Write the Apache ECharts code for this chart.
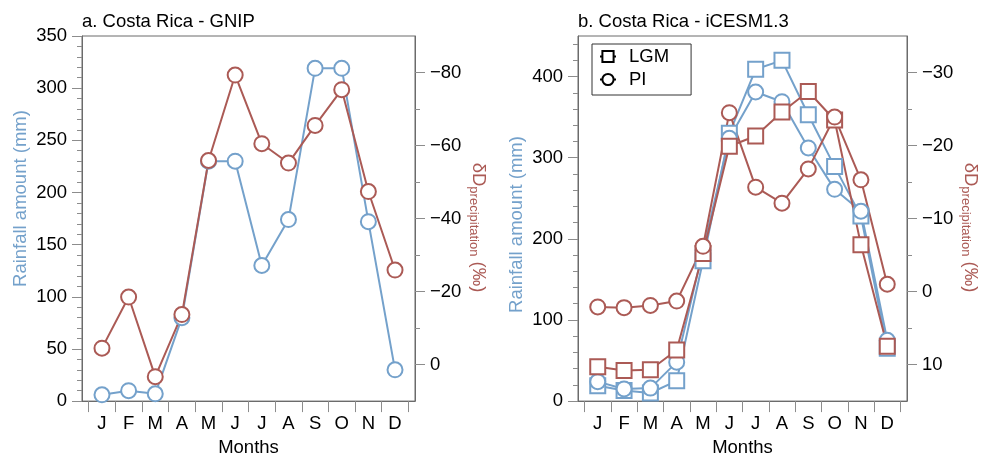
<!DOCTYPE html>
<html>
<head>
<meta charset="utf-8">
<script src="https://cdn.jsdelivr.net/npm/echarts@6/dist/echarts.min.js"></script>
<style>
  html, body { margin: 0; padding: 0; background: #fff; }
  #chart { width: 981px; height: 462px; }
</style>
</head>
<body>
<div id="chart"></div>
<script>
// months
const monthLabels = ['J', 'F', 'M', 'A', 'M', 'J', 'J', 'A', 'S', 'O', 'N', 'D']
const monthIdx = [1, 2, 3, 4, 5, 6, 7, 8, 9, 10, 11, 12]
const monthBounds = [0.5, 1.5, 2.5, 3.5, 4.5, 5.5, 6.5, 7.5, 8.5, 9.5, 10.5, 11.5, 12.5]

// a. GNIP station
const gnipRain = [6, 10, 7, 80, 230, 230, 130, 174, 319, 319, 172, 30]
const gnipDD = [-4.5, -18.5, 3.3, -13.7, -55.9, -79.3, -60.5, -55.2, -65.5, -75.3, -47.4, -25.9]

// b. iCESM1.3
const lgmRain = [19, 13, 10, 25, 173, 330, 409, 420, 353, 289, 228, 65]
const piRain = [24, 15, 16, 48, 186, 324, 381, 369, 312, 261, 234, 75]
const lgmDD = [10.3, 10.8, 10.7, 8.0, -5.2, -19.9, -21.3, -24.6, -27.4, -23.5, -6.4, 7.5]
const piDD = [2.1, 2.2, 1.9, 1.3, -6.2, -24.5, -14.3, -12.1, -16.8, -23.9, -15.3, -1.0]

// tick labels
const rainTicksA = [0, 50, 100, 150, 200, 250, 300, 350]
const rainMinorA = [10, 20, 30, 40, 60, 70, 80, 90, 110, 120, 130, 140, 160, 170, 180, 190,
  210, 220, 230, 240, 260, 270, 280, 290, 310, 320, 330, 340]
const ddTicksA = [-80, -60, -40, -20, 0]
const ddMinorA = [-70, -50, -30, -10]
const rainTicksB = [0, 100, 200, 300, 400]
const rainMinorB = [20, 40, 60, 80, 120, 140, 160, 180, 220, 240, 260, 280, 320, 340, 360, 380, 420, 440]
const ddTicksB = [-30, -20, -10, 0, 10]
const ddMinorB = [-25, -15, -5, 5]

const FONT = 'Liberation Sans'
const FS = 18.5
const BLUE = '#74a1cb'
const RED = '#ab5a55'
const AXIS = '#6b6b6b'
const TICK = '#8c8c8c'

const fmt = (v) => (v < 0 ? '\u2212' + Math.abs(v) : String(v))

function mainY(grid, pos, min, max, inverse, ticks, name, nameColor, extra) {
  return {
    type: 'value', gridIndex: grid, position: pos, min, max, inverse,
    axisLine: { show: true, lineStyle: { color: AXIS, width: 1 } },
    axisTick: { show: true, inside: false, length: 10, customValues: ticks, lineStyle: { color: TICK } },
    axisLabel: { customValues: ticks, formatter: fmt, margin: 15, color: '#000', fontFamily: FONT, fontSize: FS },
    splitLine: { show: false },
    name,
    nameLocation: 'middle',
    nameGap: pos === 'left' ? 52 : 54,
    nameRotate: pos === 'left' ? 90 : -90,
    nameTextStyle: Object.assign({ color: nameColor, fontFamily: FONT, fontSize: FS }, extra || {}),
  }
}

function minorY(grid, pos, min, max, inverse, ticks) {
  return {
    type: 'value', gridIndex: grid, position: pos, min, max, inverse,
    axisLine: { show: false },
    axisTick: { show: true, inside: false, length: 5, customValues: ticks, lineStyle: { color: TICK } },
    axisLabel: { show: false },
    splitLine: { show: false },
  }
}

function monthAxis(grid) {
  return {
    type: 'value', gridIndex: grid, min: 0.25, max: 12.75,
    axisLine: { show: true, lineStyle: { color: AXIS, width: 1 } },
    axisTick: { show: true, length: 11, customValues: monthBounds, lineStyle: { color: TICK } },
    axisLabel: {
      customValues: monthIdx, formatter: (v) => monthLabels[v - 1],
      margin: 13, color: '#000', fontFamily: FONT, fontSize: FS,
    },
    splitLine: { show: false },
    name: 'Months', nameLocation: 'middle', nameGap: 33,
    nameTextStyle: { color: '#000', fontFamily: FONT, fontSize: FS },
  }
}

const ddName = '{a|\u03b4D}{b|precipitation}{a| (\u2030)}'
const ddStyle = {
  padding: [0, 0, 0, 18],
  rich: {
    a: { color: RED, fontFamily: FONT, fontSize: FS, lineHeight: 22, verticalAlign: 'bottom' },
    b: { color: RED, fontFamily: FONT, fontSize: 13, lineHeight: 22, verticalAlign: 'bottom', padding: [0, 0, -2, 0] },
  },
}

function pts(vals) {
  return vals.map((v, i) => [monthIdx[i], v])
}

function line(name, x, y, vals, color, symbol) {
  return {
    name, type: 'line', xAxisIndex: x, yAxisIndex: y,
    data: pts(vals),
    symbol, symbolSize: 15, showSymbol: true,
    lineStyle: { color, width: 2 },
    itemStyle: { color: '#fff', borderColor: color, borderWidth: 2 },
    emphasis: { disabled: true },
    animation: false,
  }
}

const chart = echarts.init(document.getElementById('chart'))

chart.setOption({
  animation: false,
  backgroundColor: '#fff',
  title: [
    { text: 'a. Costa Rica - GNIP', left: 82, top: 12, padding: 0,
      textStyle: { fontFamily: FONT, fontSize: FS, fontWeight: 'normal', color: '#000' } },
    { text: 'b. Costa Rica - iCESM1.3', left: 578, top: 12, padding: 0,
      textStyle: { fontFamily: FONT, fontSize: FS, fontWeight: 'normal', color: '#000' } },
  ],
  legend: {
    data: ['LGM', 'PI'],
    orient: 'vertical',
    left: 592, top: 44,
    padding: [3, 22, 6, 7],
    itemGap: 4, itemWidth: 16, itemHeight: 14,
    borderColor: '#333', borderWidth: 1,
    textStyle: { color: '#000', fontFamily: FONT, fontSize: FS, padding: [0, 0, 0, 8] },
    selectedMode: false,
  },
  grid: [
    { left: 82, top: 36, width: 333, height: 373, show: true, borderColor: AXIS, borderWidth: 1, backgroundColor: 'transparent' },
    { left: 578, top: 36, width: 333, height: 373, show: true, borderColor: AXIS, borderWidth: 1, backgroundColor: 'transparent' },
  ],
  xAxis: [monthAxis(0), monthAxis(1)],
  yAxis: [
    mainY(0, 'left', 0, 350, false, rainTicksA, 'Rainfall amount (mm)', BLUE, { padding: [0, 0, 0, 40] }),
    minorY(0, 'left', 0, 350, false, rainMinorA),
    mainY(0, 'right', -90, 10, true, ddTicksA, ddName, RED, ddStyle),
    minorY(0, 'right', -90, 10, true, ddMinorA),
    mainY(1, 'left', 0, 450, false, rainTicksB, 'Rainfall amount (mm)', BLUE, { padding: [0, 12, 0, 0] }),
    minorY(1, 'left', 0, 450, false, rainMinorB),
    mainY(1, 'right', -35, 15, true, ddTicksB, ddName, RED, ddStyle),
    minorY(1, 'right', -35, 15, true, ddMinorB),
  ],
  series: [
    line('GNIP rain', 0, 0, gnipRain, BLUE, 'circle'),
    line('GNIP dD', 0, 2, gnipDD, RED, 'circle'),
    line('LGM rain', 1, 4, lgmRain, BLUE, 'rect'),
    line('PI rain', 1, 4, piRain, BLUE, 'circle'),
    line('LGM dD', 1, 6, lgmDD, RED, 'rect'),
    line('PI dD', 1, 6, piDD, RED, 'circle'),
    // legend entries only
    { name: 'LGM', type: 'line', xAxisIndex: 1, yAxisIndex: 4, data: [], symbol: 'rect', symbolSize: 13,
      lineStyle: { color: '#000', width: 1.5 }, itemStyle: { color: '#fff', borderColor: '#000', borderWidth: 2 } },
    { name: 'PI', type: 'line', xAxisIndex: 1, yAxisIndex: 4, data: [], symbol: 'circle', symbolSize: 13,
      lineStyle: { color: '#000', width: 1.5 }, itemStyle: { color: '#fff', borderColor: '#000', borderWidth: 2 } },
  ],
})
</script>
</body>
</html>
